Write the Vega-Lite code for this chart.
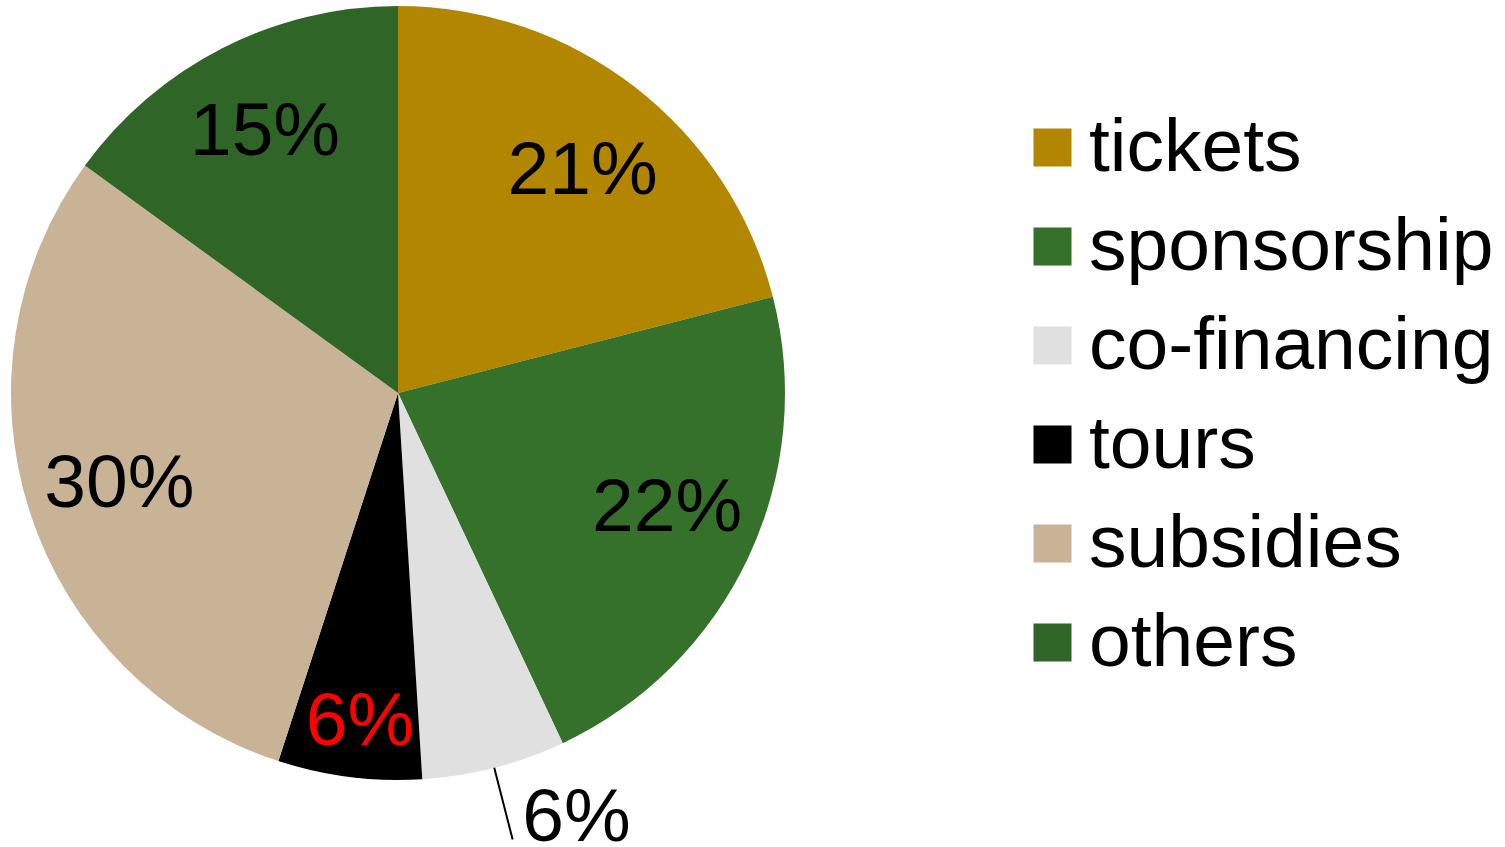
{
  "$schema": "https://vega.github.io/schema/vega-lite/v6.json",
  "width": 796,
  "height": 786,
  "autosize": {"type": "none"},
  "padding": {"left": 0, "top": 0, "right": 709, "bottom": 61},
  "background": "white",
  "data": {
    "values": [
      {"category": "tickets", "share": 21, "label": "21%", "order": 1},
      {"category": "sponsorship", "share": 22, "label": "22%", "order": 2},
      {"category": "co-financing", "share": 6, "label": "6%", "order": 3},
      {"category": "tours", "share": 6, "label": "6%", "order": 4},
      {"category": "subsidies", "share": 30, "label": "30%", "order": 5},
      {"category": "others", "share": 15, "label": "15%", "order": 6}
    ]
  },
  "encoding": {
    "theta": {"field": "share", "type": "quantitative", "stack": true},
    "order": {"field": "order", "type": "quantitative"}
  },
  "layer": [
    {
      "mark": {"type": "arc", "outerRadius": 387},
      "encoding": {
        "color": {
          "field": "category",
          "type": "nominal",
          "scale": {
            "domain": ["tickets", "sponsorship", "co-financing", "tours", "subsidies", "others"],
            "range": ["#B38600", "#35712A", "#E0E0E0", "#000000", "#C9B397", "#2F6527"]
          },
          "legend": {
            "orient": "none",
            "legendX": 1015,
            "legendY": 110,
            "title": null,
            "symbolType": "square",
            "symbolSize": 1444,
            "symbolStrokeWidth": 0,
            "symbolOpacity": 1,
            "labelFontSize": 75,
            "labelFont": "Liberation Sans",
            "labelColor": "black",
            "labelOffset": -1,
            "labelLimit": 600,
            "rowPadding": 23,
            "padding": 0
          }
        }
      }
    },
    {
      "mark": {"type": "arc", "innerRadius": 387, "outerRadius": 461, "padAngle": 0.5, "fill": null, "stroke": "black", "strokeWidth": 2},
      "encoding": {
        "strokeOpacity": {
          "condition": {"test": "datum.category === 'co-financing'", "value": 1},
          "value": 0
        }
      }
    },
    {
      "mark": {"type": "text", "radius": 293, "font": "Liberation Sans", "fontSize": 75, "fill": "black", "align": "center", "baseline": "middle"},
      "encoding": {
        "text": {
          "condition": {"test": "indexof(['subsidies','others'], datum.category) >= 0", "field": "label", "type": "nominal"},
          "value": ""
        }
      }
    },
    {
      "mark": {"type": "text", "radius": 293, "dx": 5, "dy": 10, "font": "Liberation Sans", "fontSize": 75, "fill": "black", "align": "center", "baseline": "middle"},
      "encoding": {
        "text": {
          "condition": {"test": "datum.category === 'tickets'", "field": "label", "type": "nominal"},
          "value": ""
        }
      }
    },
    {
      "mark": {"type": "text", "radius": 293, "dx": 4, "dy": -10, "font": "Liberation Sans", "fontSize": 75, "fill": "black", "align": "center", "baseline": "middle"},
      "encoding": {
        "text": {
          "condition": {"test": "datum.category === 'sponsorship'", "field": "label", "type": "nominal"},
          "value": ""
        }
      }
    },
    {
      "mark": {"type": "text", "radius": 328, "dx": 3, "dy": 4, "font": "Liberation Sans", "fontSize": 75, "fill": "#FF0000", "align": "center", "baseline": "middle"},
      "encoding": {
        "text": {
          "condition": {"test": "datum.category === 'tours'", "field": "label", "type": "nominal"},
          "value": ""
        }
      }
    },
    {
      "mark": {"type": "text", "radius": 420, "dx": 74, "dy": 18, "font": "Liberation Sans", "fontSize": 75, "fill": "black", "align": "center", "baseline": "middle"},
      "encoding": {
        "text": {
          "condition": {"test": "datum.category === 'co-financing'", "field": "label", "type": "nominal"},
          "value": ""
        }
      }
    }
  ],
  "config": {"view": {"stroke": null}}
}
